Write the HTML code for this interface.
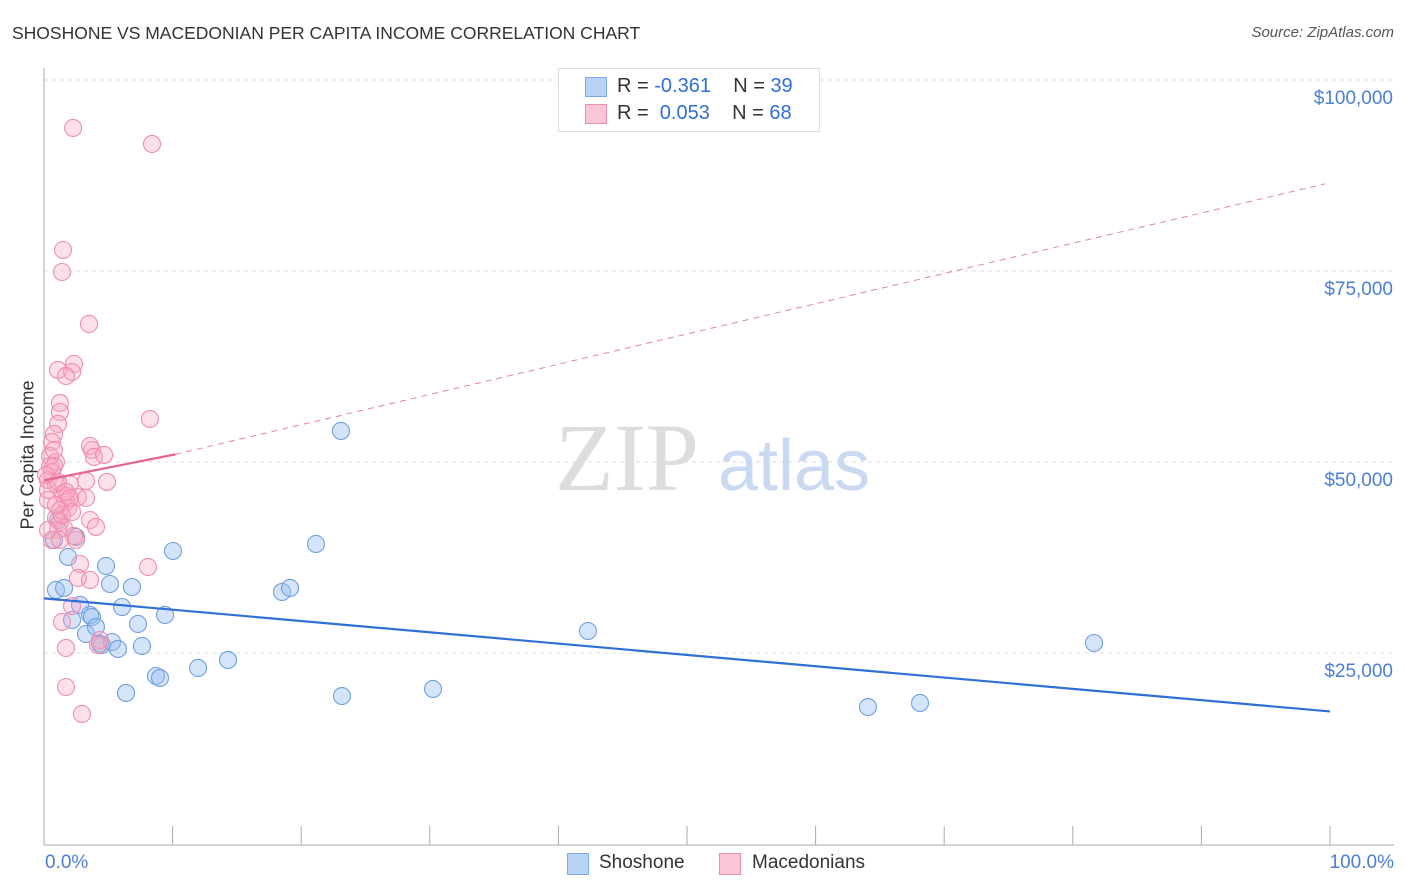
<!DOCTYPE html>
<html><head><meta charset="utf-8"><style>
body{margin:0;background:#fff;font-family:"Liberation Sans",sans-serif}
#wrap{position:relative;width:1406px;height:892px;overflow:hidden}
.t{position:absolute;white-space:nowrap}
</style></head><body>
<div id="wrap">
<div class="t" style="left:12px;top:23px;font-size:17.5px;color:#333">SHOSHONE VS MACEDONIAN PER CAPITA INCOME CORRELATION CHART</div>
<div class="t" style="right:12px;top:24px;font-size:15px;color:#555;font-style:italic">Source: ZipAtlas.com</div>
<div class="t" style="left:28px;top:455px;font-size:18px;color:#333;transform:translate(-50%,-50%) rotate(-90deg)">Per Capita Income</div>
<svg id="svg" width="1406" height="892" style="position:absolute;left:0;top:0"></svg>
</div>
<script>
const blueX=[0.78,0.93,1.56,1.87,2.18,2.49,2.8,3.27,3.58,3.73,4.04,4.35,4.51,4.82,5.13,5.29,5.75,6.07,6.38,6.84,7.31,7.62,8.71,9.02,9.41,10.03,11.98,14.31,18.51,19.13,21.15,23.09,23.17,30.25,42.3,64.07,68.12,81.65,1.09];
const blueY=[39790,33250,33510,37570,29320,40190,31290,27490,29980,29710,28410,26180,26050,36390,34030,26440,25530,31020,19770,33640,28800,25920,21990,21730,29980,38350,23040,24090,32990,33510,39270,54060,19370,20290,27880,17930,18460,26310,42410];
const pinkX=[2.26,8.4,1.48,1.4,3.5,2.33,1.09,2.18,1.71,1.24,1.24,1.09,0.78,0.62,0.47,0.93,0.78,0.62,0.31,0.93,2.02,3.27,4.9,3.58,3.73,3.89,4.67,8.24,1.4,1.87,2.64,1.71,1.87,0.31,0.93,1.24,1.56,1.09,3.58,4.04,2.49,0.31,0.62,2.8,2.64,3.58,2.18,8.09,1.4,1.71,4.35,4.2,1.71,2.95,0.47,0.78,0.16,0.31,1.24,1.4,2.18,0.93,1.09,1.71,2.33,3.27,1.24,2.02];
const pinkY=[93720,91630,77750,74870,68070,62830,62050,61780,61260,57730,56550,54980,53670,52620,50790,50000,49480,48690,47650,47120,47120,47520,47390,52100,51570,50660,50920,55630,45820,45550,45420,44770,43980,45030,42670,42150,41360,41100,42410,41500,39790,41100,39790,36650,34820,34560,31150,36260,29060,25660,26700,26050,20550,17020,49480,51570,48300,46340,43720,43070,43460,44380,47390,46080,40320,45290,39790,45290];
const yTicks=[25000,50000,75000,100000];
const yTickLabels=["$25,000","$50,000","$75,000","$100,000"];
const xTicks=[0,10,20,30,40,50,60,70,80,90,100];
const blueTrend=[[0,32150],[100,17350]];
const pinkTrend=[[0,47600],[10.2,51000],[99.6,86400]];
const X=v=>44+v*12.86, Y=v=>844-v*191/25000;
const s=document.getElementById('svg'),NS='http://www.w3.org/2000/svg';
function mk(t,a){const e=document.createElementNS(NS,t);for(const k in a)e.setAttribute(k,a[k]);s.appendChild(e);return e;}
yTicks.forEach((v,i)=>{
 const g=mk('line',{x1:44,x2:1394,y1:Y(v),y2:Y(v),stroke:'#ddd','stroke-dasharray':'4,4'});
 
 
 const t=mk('text',{x:1393,y:Y(v)+24,'text-anchor':'end','font-size':19,fill:'#4a7fd4','font-family':'Liberation Sans'});t.textContent=yTickLabels[i];
 
 
});
mk('line',{x1:44,x2:44,y1:68,y2:845,stroke:'#aaa'});
mk('line',{x1:44,x2:1394,y1:845,y2:845,stroke:'#aaa'});
xTicks.forEach(v=>{const l=mk('line',{x1:X(v),x2:X(v),y1:826,y2:845,stroke:'#aaa'});
 
 });
const w1=mk('text',{x:555,y:490,'font-size':96,fill:'#ddd','font-family':'Liberation Serif'});w1.textContent='ZIP';
const w2=mk('text',{x:718,y:490,'font-size':72,fill:'#c9d9f2','font-family':'Liberation Sans'});w2.textContent='atlas';
blueX.forEach((x,i)=>{const c=mk('circle',{cx:X(x),cy:Y(blueY[i]),r:8.5,fill:'rgba(150,190,240,0.4)',stroke:'#6f9fe0','stroke-width':1.1});
 
 });
pinkX.forEach((x,i)=>{const c=mk('circle',{cx:X(x),cy:Y(pinkY[i]),r:8.5,fill:'rgba(248,170,195,0.35)',stroke:'#f08cb0','stroke-width':1.1});
 
 });
const bl=mk('line',{x1:X(blueTrend[0][0]),y1:Y(blueTrend[0][1]),x2:X(blueTrend[1][0]),y2:Y(blueTrend[1][1]),stroke:'#2f6fd6','stroke-width':2.2});


const pl=mk('line',{x1:X(pinkTrend[0][0]),y1:Y(pinkTrend[0][1]),x2:X(pinkTrend[1][0]),y2:Y(pinkTrend[1][1]),stroke:'#e8628f','stroke-width':2.2});


const pd=mk('line',{x1:X(pinkTrend[1][0]),y1:Y(pinkTrend[1][1]),x2:X(pinkTrend[2][0]),y2:Y(pinkTrend[2][1]),stroke:'#e8829f','stroke-width':1,'stroke-dasharray':'6,5'});


</script>
<div class="t" style="left:45px;top:852px;font-size:19px;color:#4a7fd4">0.0%</div>
<div class="t" style="right:12px;top:852px;font-size:19px;color:#4a7fd4">100.0%</div>
<div style="position:absolute;left:558px;top:68px;width:260px;height:62px;border:1px solid #ddd;background:#fff;font-size:20px;color:#333">
 <div style="position:absolute;left:26px;top:8px;width:20px;height:18px;background:#b9d3f5;border:1px solid #7aa7e6"></div>
 <div class="t" style="left:58px;top:6px">R = <span style="color:#2f6fd6">-0.361</span>&nbsp;&nbsp;&nbsp; N = <span style="color:#2f6fd6">39</span></div>
 <div style="position:absolute;left:26px;top:35px;width:20px;height:18px;background:#fbc6d6;border:1px solid #f08cb0"></div>
 <div class="t" style="left:58px;top:33px">R = &nbsp;<span style="color:#2f6fd6">0.053</span>&nbsp;&nbsp;&nbsp; N = <span style="color:#2f6fd6">68</span></div>
</div>
<div style="position:absolute;left:567px;top:852px;font-size:19px;color:#333">
 <div style="position:absolute;left:0;top:1px;width:20px;height:20px;background:#b9d3f5;border:1px solid #7aa7e6"></div>
 <div class="t" style="left:32px;top:0">Shoshone</div>
 <div style="position:absolute;left:152px;top:1px;width:20px;height:20px;background:#fbc6d6;border:1px solid #f08cb0"></div>
 <div class="t" style="left:185px;top:0">Macedonians</div>
</div>
</body></html>
